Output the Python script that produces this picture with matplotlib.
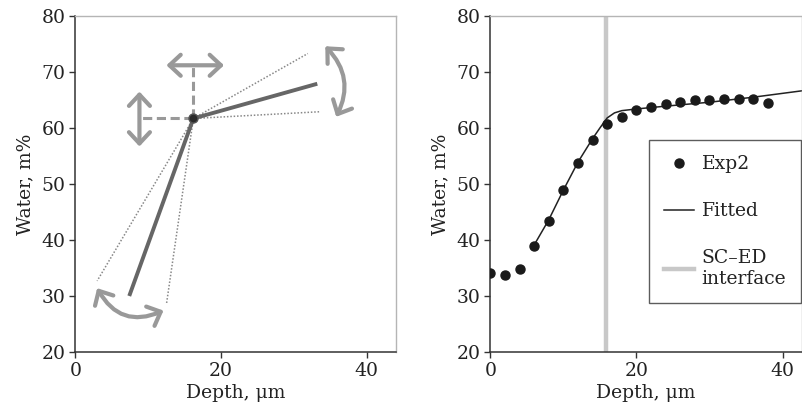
import matplotlib
matplotlib.use("Agg")
import matplotlib.pyplot as plt
from matplotlib.patches import FancyArrowPatch

plt.rcParams['font.family'] = ['DejaVu Serif']
plt.rcParams['font.size'] = 13

# ---- Left panel (schematic) data ----
center = (16.2, 61.7)
solid_low = (7.4, 30.0)
solid_high = (33.2, 67.9)
dotted_ends_x = [3.0, 12.5, 31.9, 33.5]
dotted_ends_y = [32.7, 28.5, 73.3, 62.9]
dash_h_end = (8.8, 61.7)
dash_v_end = (16.2, 71.2)
harrow_x = [12.5, 20.4]
harrow_y = 71.2
varrow_x = 8.8
varrow_y = [56.7, 66.5]
arc_top = [(34.3, 74.6), (35.8, 62.0)]
arc_bot = [(3.0, 31.4), (12.1, 27.4)]

# ---- Right panel data ----
depth = [0, 2, 4, 6, 8, 10, 12, 14, 16, 18, 20, 22, 24, 26, 28, 30, 32, 34, 36, 38]
water = [34.1, 33.8, 34.9, 38.9, 43.4, 48.9, 53.8, 57.9, 60.8, 62.0, 63.2, 63.7,
         64.3, 64.7, 65.0, 65.0, 65.1, 65.2, 65.1, 64.5]
fit_x = [6, 8, 10, 12, 14, 15, 16, 17, 18, 20, 24, 30, 36, 43]
fit_y = [39.1, 43.6, 48.9, 53.9, 58.1, 60.0, 61.8, 62.7, 63.1, 63.4, 63.9, 64.6, 65.5, 66.7]
interface_x = 15.8

W, H = 802, 412
fig = plt.figure(figsize=(W / 100, H / 100), dpi=100)
axL = fig.add_axes([75.3 / W, 1 - 352 / H, (396 - 75.3) / W, 336 / H])
axR = fig.add_axes([490.3 / W, 1 - 352 / H, (801.5 - 490.3) / W, 336 / H])

FS = 13.5
for ax, xmax in ((axL, 44), (axR, 42.6)):
    ax.set_xlim(0, xmax)
    ax.set_ylim(20, 80)
    ax.set_xticks([0, 20, 40])
    ax.set_yticks([20, 30, 40, 50, 60, 70, 80])
    ax.tick_params(direction='out', length=4, width=1, color='#333333',
                   labelsize=FS, labelcolor='#222222', pad=3)
    for s in ('left', 'bottom'):
        ax.spines[s].set_color('#333333')
        ax.spines[s].set_linewidth(1.1)
    for s in ('top', 'right'):
        ax.spines[s].set_color('#b5b5b5')
        ax.spines[s].set_linewidth(1.0)
    ax.set_xlabel('Depth, μm', fontsize=FS, color='#222222', labelpad=3)
    ax.set_ylabel('Water, m%', fontsize=FS, color='#222222', labelpad=5)

# Left panel drawing
for ex, ey in zip(dotted_ends_x, dotted_ends_y):
    axL.plot([center[0], ex], [center[1], ey], ls=(0, (1, 1.2)), color='#888888', lw=1.1)
axL.plot([center[0], dash_h_end[0]], [center[1], dash_h_end[1]], ls=(0, (3, 1.5)),
         color='#999999', lw=2.2)
axL.plot([center[0], dash_v_end[0]], [center[1], dash_v_end[1]], ls=(0, (3, 1.5)),
         color='#999999', lw=2.2)
axL.plot([solid_low[0], center[0], solid_high[0]], [solid_low[1], center[1], solid_high[1]],
         color='#666666', lw=2.8, solid_capstyle='butt')
axL.plot([center[0]], [center[1]], 'o', ms=6.5, color='#2a2a2a', mec='#555555')

astyle = '<->,head_length=0.45,head_width=0.42'
for (a, b, cs) in [((harrow_x[0], harrow_y), (harrow_x[1], harrow_y), 'arc3,rad=0'),
                   ((varrow_x, varrow_y[0]), (varrow_x, varrow_y[1]), 'arc3,rad=0'),
                   (arc_top[0], arc_top[1], 'arc3,rad=-0.35'),
                   (arc_bot[0], arc_bot[1], 'arc3,rad=0.45')]:
    axL.add_patch(FancyArrowPatch(a, b, connectionstyle=cs, arrowstyle=astyle,
                                  mutation_scale=18, lw=3.0, color='#999999',
                                  shrinkA=0, shrinkB=0))

# Right panel drawing
axR.axvline(interface_x, color='#c8c8c8', lw=3.2, label='SC\u2013ED\ninterface', zorder=1)
axR.plot(fit_x, fit_y, color='#222222', lw=1.1, label='Fitted', zorder=2)
axR.plot(depth, water, 'o', ms=6.5, color='#1a1a1a', label='Exp2', linestyle='none', zorder=3)

handles, labels = axR.get_legend_handles_labels()
order = [2, 1, 0]
leg = axR.legend([handles[i] for i in order], [labels[i] for i in order],
                 loc='upper left', bbox_to_anchor=(0.51, 0.63), borderaxespad=0,
                 fontsize=FS, frameon=True, fancybox=False, edgecolor='#333333',
                 borderpad=0.8, labelspacing=1.55, handlelength=1.6, handletextpad=0.4,
                 handleheight=0.7)
leg.get_frame().set_linewidth(1.0)
for t in leg.get_texts():
    t.set_color('#222222')

fig.savefig('out.png', dpi=100)
